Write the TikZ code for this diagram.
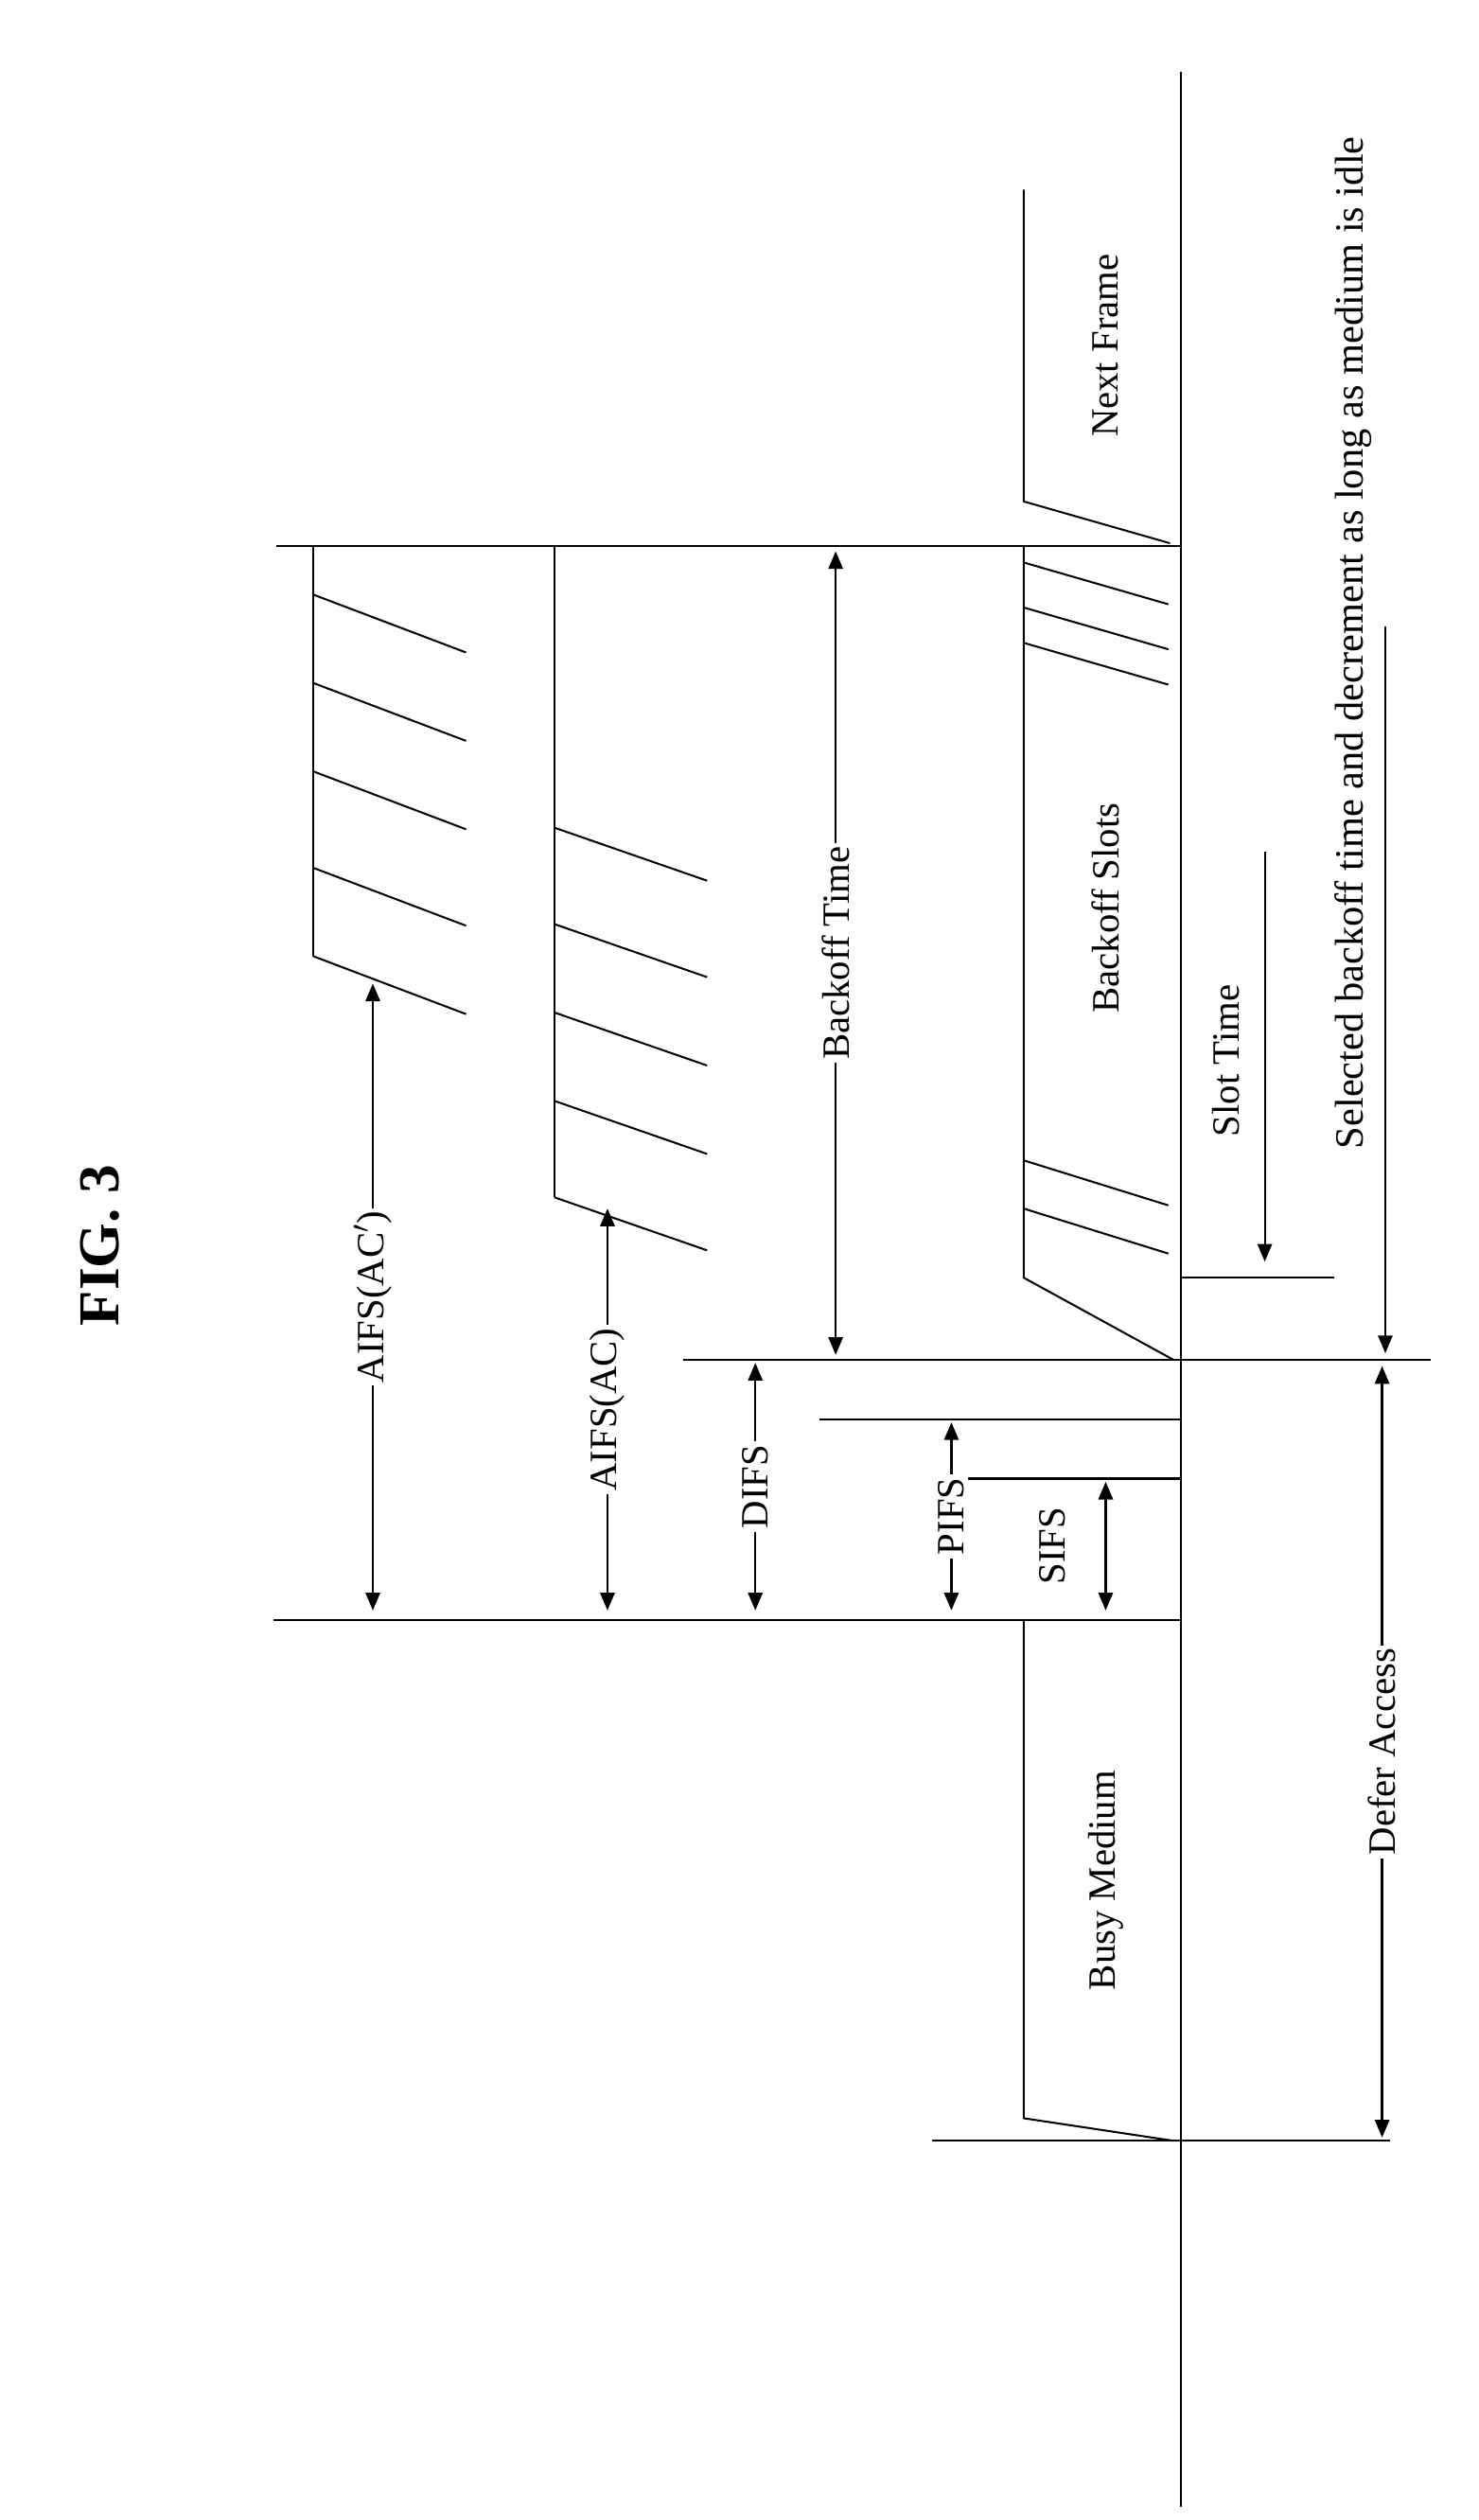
\documentclass[tikz,border=0pt]{standalone}
\usepackage{fontspec}
\setmainfont{Liberation Serif}
\usetikzlibrary{arrows.meta}
\tikzset{
  dim/.style={{Triangle[length=11pt,width=9pt]}-{Triangle[length=11pt,width=9pt]}, line width=1.3pt},
  lbl/.style={rotate=90, fill=white, inner sep=2pt, font=\fontsize{24}{26}\selectfont},
  hatch/.style={line width=1.2pt},
  every path/.style={line width=1.2pt}
}
\begin{document}
\begin{tikzpicture}[x=1pt,y=-1pt]
\useasboundingbox (0,0) rectangle (920,1568);
% title
\node[rotate=90, font=\fontsize{36}{38}\selectfont\bfseries] (title) at (62,775) {FIG. 3};
% time axis
\coordinate (axT) at (735,45); \coordinate (axB) at (735,1560);
\draw (axT) -- (axB);
% boundaries
\draw (580,1332) -- (865,1332);
\draw (170,1008) -- (735,1008);
\draw (600,920) -- (735,920);
\draw (510,883) -- (735,883);
\draw (425,846) -- (890,846);
\draw (172,340) -- (735,340);
\draw (735,795) -- (830,795);
% busy medium
\draw (637,1008) -- (637,1318) -- (730,1332);
\node[lbl] (busy) at (688,1170) {Busy Medium};
% next frame
\draw (637,118) -- (637,312) -- (728,338);
\node[lbl] (next) at (688,215) {Next Frame};
% backoff slots
\draw (637,340) -- (637,795) -- (730,846);
\foreach \y in {350,378,400} \draw[hatch] (637,\y) -- (727,\y+26);
\foreach \y in {722,752} \draw[hatch] (637,\y) -- (727,\y+28);
\node[lbl] (slots) at (688,565) {Backoff Slots};
% AIFS(AC') block
\draw (195,340) -- (195,595);
\foreach \y in {370,425,480,540,595} \draw[hatch] (195,\y) -- (290,\y+36);
% AIFS(AC) block
\draw (345,340) -- (345,745);
\foreach \y in {515,575,630,685,745} \draw[hatch] (345,\y) -- (440,\y+33);
% dimensions
\draw[dim] (232,612) -- (232,1002) node[lbl, midway] (aifs2) {AIFS(AC$'$)};
\draw[dim] (378,752) -- (378,1002) node[lbl, pos=0.5] (aifs1) {AIFS(AC)};
\draw[dim] (470,848) -- (470,1002) node[lbl, midway] (difs) {DIFS};
\draw[dim] (592,885) -- (592,1002) node[lbl, midway] (pifs) {PIFS};
\draw[dim] (688,922) -- (688,1002);
\node[lbl, fill=none] (sifs) at (655,962) {SIFS};
\draw[dim] (520,343) -- (520,843) node[lbl, midway] (bt) {Backoff Time};
\draw[dim] (860,850) -- (860,1330) node[lbl, midway] (defer) {Defer Access};
% slot time
\node[lbl, fill=none] (slot) at (763,660) {Slot Time};
\draw[-{Triangle[length=11pt,width=9pt]}] (787,530) -- (787,785);
% selected backoff
\node[lbl, fill=none, font=\fontsize{25}{27}\selectfont] (sel) at (842,400) {Selected backoff time and decrement as long as medium is idle};
\draw[-{Triangle[length=11pt,width=9pt]}] (862,390) -- (862,842);
\end{tikzpicture}
\end{document}
